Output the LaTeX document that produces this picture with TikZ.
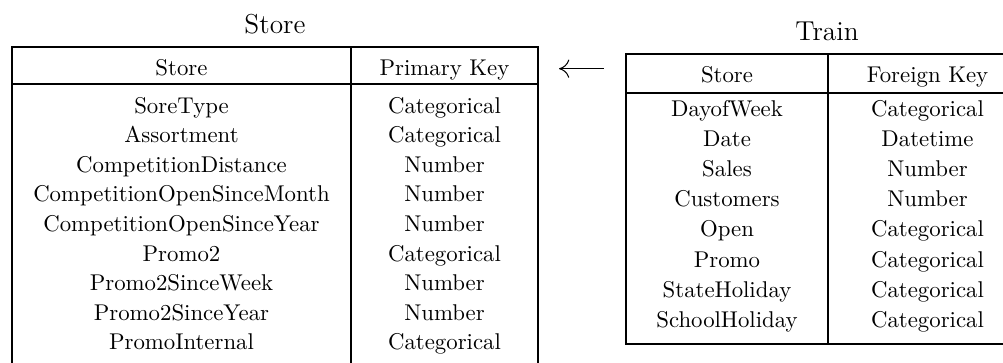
\documentclass[tikz,border=0pt]{standalone}
\usetikzlibrary{arrows.meta}
\begin{document}
\begin{tikzpicture}[x=0.4386pt,y=-0.4386pt,
  rule/.style={line width=0.85pt},
  cell/.style={anchor=base,inner sep=0pt},
  ttl/.style={anchor=base,inner sep=0pt,font=\large},
  link/.style={line width=0.45pt,{Computer Modern Rightarrow[length=4.5pt,width=8pt]}-}]
\useasboundingbox (0,0) rectangle (1003,362);
% ---------- Store table ----------
\node[ttl] (storetitle) at (275,33) {Store};
\draw[rule] (12,380) -- (12,46.7) -- (538,46.7) -- (538,380);
\draw[rule] (12,84.3) -- (538,84.3);
\draw[rule] (351,46.7) -- (351,380);
\node[cell] (sh1) at (181.5,75) {Store};
\node[cell] (sh2) at (444.5,75) {Primary Key};
\foreach \n/\a/\b [count=\i from 0] in {
  s1/SoreType/Categorical,
  s2/Assortment/Categorical,
  s3/CompetitionDistance/Number,
  s4/CompetitionOpenSinceMonth/Number,
  s5/CompetitionOpenSinceYear/Number,
  s6/Promo2/Categorical,
  s7/Promo2SinceWeek/Number,
  s8/Promo2SinceYear/Number,
  s9/PromoInternal/Categorical}{
  \node[cell] (\n a) at (181.5,{113+29.6*\i}) {\a};
  \node[cell] (\n b) at (444.5,{113+29.6*\i}) {\b};
}
% ---------- Train table ----------
\node[ttl] (traintitle) at (827,40.6) {Train};
\draw[rule] (1030,344) -- (626,344) -- (626,54.3) -- (1030,54.3);
\draw[rule] (626,92.7) -- (1030,92.7);
\draw[rule] (828,54.3) -- (828,344);
\node[cell] (th1) at (727,82.6) {Store};
\node[cell] (th2) at (927.5,82.6) {Foreign Key};
\foreach \n/\a/\b [count=\i from 0] in {
  t1/DayofWeek/Categorical,
  t2/Date/Datetime,
  t3/Sales/Number,
  t4/Customers/Number,
  t5/Open/Categorical,
  t6/Promo/Categorical,
  t7/StateHoliday/Categorical,
  t8/SchoolHoliday/Categorical}{
  \node[cell] (\n a) at (727,{116.5+30.1*\i}) {\a};
  \node[cell] (\n b) at (927.5,{116.5+30.1*\i}) {\b};
}
% ---------- link ----------
\coordinate (lnkStore) at (559,68.7);
\coordinate (lnkTrain) at (604,68.7);
\draw[link] (lnkStore) -- (lnkTrain);
\end{tikzpicture}
\end{document}
